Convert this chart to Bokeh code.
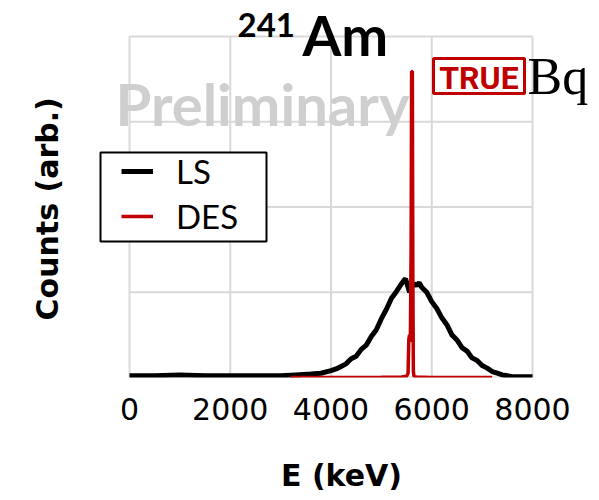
from bokeh.plotting import figure
from bokeh.models import Legend, LegendItem, Label, BoxAnnotation, FixedTicker, Range1d, Title
from bokeh.embed import file_html
from bokeh.resources import INLINE

# ---- data ----
x_ticks = [0, 2000, 4000, 6000, 8000]
y_grid = [0, 1, 2, 3, 4]

E_LS = [0, 500, 1000, 1500, 2000, 2500, 3000, 3300, 3600, 3800, 4000, 4100, 4200,
        4300, 4400, 4500, 4600, 4700, 4800, 4900, 5000, 5100, 5200, 5300, 5400,
        5450, 5480, 5520, 5560, 5600, 5650, 5700, 5750, 5800, 5900, 6000, 6100,
        6200, 6300, 6400, 6500, 6600, 6700, 6800, 6900, 7000, 7100, 7200, 7300,
        7400, 7500, 7600, 7800, 8000]
LS = [0.02, 0.02, 0.03, 0.02, 0.02, 0.02, 0.02, 0.03, 0.04, 0.05, 0.08, 0.10, 0.13,
      0.16, 0.22, 0.25, 0.33, 0.38, 0.48, 0.56, 0.69, 0.80, 0.93, 1.01, 1.10,
      1.14, 1.16, 1.08, 1.00, 1.06, 1.10, 1.08, 1.11, 1.06, 1.00, 0.89, 0.81,
      0.70, 0.62, 0.50, 0.44, 0.35, 0.31, 0.23, 0.20, 0.14, 0.11, 0.07, 0.05,
      0.03, 0.02, 0.01, 0.01, 0.01]

E_DES = [3200, 4000, 5000, 5400, 5500, 5530, 5545, 5560, 5575, 5590, 5600, 5615,
         5625, 5635, 5645, 5660, 5700, 6000, 7000, 7200]
DES = [0.0, 0.0, 0.003, 0.006, 0.015, 0.05, 0.45, 0.50, 0.42, 1.50, 3.59, 3.59,
       1.20, 0.08, 0.02, 0.01, 0.005, 0.0, 0.0, 0.0]

RED = "#c00000"
GRID = "#d9d9d9"

# frame spans x 83..599 px and y 0..377 px; data 0..8000 sits at 129..532 px,
# 0..4 at 377..36 px
p = figure(width=599, height=500, output_backend="svg", toolbar_location=None,
           x_range=Range1d(-913.15, 9330.0), y_range=Range1d(0, 4.4223),
           y_axis_location=None,
           min_border_left=83, min_border_right=0,
           min_border_top=0, min_border_bottom=123)
p.outline_line_color = None
p.background_fill_color = "white"
p.border_fill_color = "white"
p.grid.visible = False

# x axis
p.xaxis.ticker = FixedTicker(ticks=x_ticks)
p.xaxis.axis_line_color = None
p.xaxis.major_tick_line_color = None
p.xaxis.minor_tick_line_color = None
p.xaxis.major_tick_out = 0
p.xaxis.major_tick_in = 0
p.xaxis.major_label_text_font = "DejaVu Sans"
p.xaxis.major_label_text_font_size = "30px"
p.xaxis.major_label_text_color = "black"
p.xaxis.major_label_standoff = 20
p.xaxis.axis_label = "E (keV)"
p.xaxis.axis_label_standoff = 35
p.xaxis.axis_label_text_font = "DejaVu Sans"
p.xaxis.axis_label_text_font_style = "bold"
p.xaxis.axis_label_text_font_size = "30px"
p.xaxis.axis_label_text_color = "black"

# y label (left side, reads upward)
p.add_layout(Title(text="Counts (arb.)", align="left", offset=57,
                   vertical_align="bottom", standoff=38,
                   text_font="DejaVu Sans", text_font_style="bold",
                   text_font_size="30px", text_color="black"), "left")

# grid lines at the tick values
p.segment(x0=x_ticks, y0=[y_grid[0]] * len(x_ticks), x1=x_ticks,
          y1=[y_grid[-1]] * len(x_ticks), line_color=GRID, line_width=2)
p.segment(x0=[x_ticks[0]] * len(y_grid), y0=y_grid, x1=[x_ticks[-1]] * len(y_grid),
          y1=y_grid, line_color=GRID, line_width=2)

# data
r_ls = p.line(E_LS, LS, line_color="black", line_width=5)
r_des = p.line(E_DES, DES, line_color=RED, line_width=3.5)

# legend box + legend
p.add_layout(BoxAnnotation(left=17, right=183, bottom=136, top=225,
                           left_units="screen", right_units="screen",
                           bottom_units="screen", top_units="screen",
                           line_color="black", line_width=2, line_alpha=1.0,
                           fill_color="white", fill_alpha=1.0))
legend = Legend(items=[LegendItem(label="LS", renderers=[r_ls]),
                       LegendItem(label="DES", renderers=[r_des])],
                location=(38, 141), padding=2, spacing=5,
                glyph_width=32, glyph_height=20, label_standoff=23,
                label_text_font="Lato", label_text_font_size="33px",
                label_text_color="black",
                border_line_color=None, background_fill_alpha=0.0)
p.add_layout(legend)

# title
p.add_layout(Label(x=154, y=352.4, x_units="screen", y_units="screen", text="241",
                   text_font="Lato", text_font_style="bold",
                   text_font_size="33px", text_color="black",
                   text_baseline="alphabetic"))
p.add_layout(Label(x=219, y=342.7, x_units="screen", y_units="screen", text="Am",
                   text_font="Lato", text_font_style="bold",
                   text_font_size="56px", text_color="black",
                   text_baseline="alphabetic"))

# watermark
p.add_layout(Label(x=32, y=274.4, x_units="screen", y_units="screen", text="Preliminary",
                   text_font="Lato", text_font_style="bold",
                   text_font_size="58px", text_color="#cfcfcf",
                   text_baseline="alphabetic"))

# logo
p.add_layout(BoxAnnotation(left=350, right=441, bottom=284, top=319,
                           left_units="screen", right_units="screen",
                           bottom_units="screen", top_units="screen",
                           line_color=RED, line_width=3, line_alpha=1.0,
                           fill_color="white", fill_alpha=1.0))
p.add_layout(Label(x=395.5, y=299.9, x_units="screen", y_units="screen", text="TRUE",
                   text_font="Roboto", text_font_style="bold",
                   text_font_size="32px", text_color=RED,
                   text_align="center", text_baseline="alphabetic"))
p.add_layout(Label(x=444, y=301.5, x_units="screen", y_units="screen", text="Bq",
                   text_font="Liberation Serif",
                   text_font_size="52px", text_color="black",
                   text_baseline="alphabetic"))

open("out.html", "w").write(file_html(p, INLINE))
